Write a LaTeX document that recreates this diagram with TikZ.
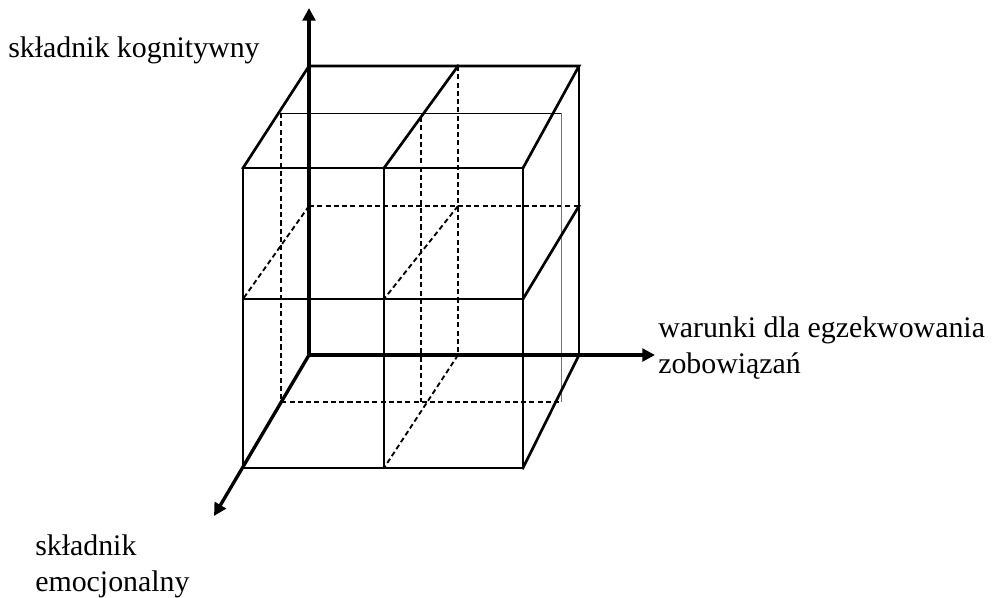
\documentclass[tikz,border=0pt]{standalone}
\usepackage{fontspec}
\setmainfont{Liberation Serif}
\usetikzlibrary{arrows.meta}
\begin{document}
\begin{tikzpicture}[x=0.75pt,y=-0.75pt,
  edge/.style={line width=2pt,line cap=rect},
  hid/.style={line width=1.4pt,dash pattern=on 3.8pt off 2.4pt},
  thinline/.style={line width=0.7pt},
  axis/.style={line width=2.5pt,-{Triangle[length=9.5pt,width=9.5pt]}},
  lbl/.style={anchor=base west,inner sep=0pt,font=\fontsize{22.4}{27}\selectfont}]
\useasboundingbox (0,0) rectangle (993,597);
% front face
\coordinate (F00) at (243,468); \coordinate (F10) at (384,468); \coordinate (F20) at (523,468);
\coordinate (F01) at (243,299); \coordinate (F11) at (384,299); \coordinate (F21) at (523,299);
\coordinate (F02) at (243,168); \coordinate (F12) at (384,168); \coordinate (F22) at (523,168);
% back face
\coordinate (B00) at (309,355); \coordinate (B10) at (458,355); \coordinate (B20) at (579,355);
\coordinate (B01) at (309,206); \coordinate (B11) at (458,206); \coordinate (B21) at (579,206);
\coordinate (B02) at (309,66);  \coordinate (B12) at (458,66);  \coordinate (B22) at (579,66);
% middle depth
\coordinate (M02) at (280,113); \coordinate (M22) at (561,113);
\coordinate (M00) at (281,402); \coordinate (M20) at (561,402);
\coordinate (M12) at (421,117); \coordinate (M10) at (421,402);
\coordinate (ML) at (281,113);
% axis ends
\coordinate (Ytip) at (309,8);
\coordinate (Xtip) at (655,355);
\coordinate (Ztip) at (214,516);
% hidden lines
\draw[hid] (B12) -- (B10);
\draw[hid] (B01) -- (B21);
\draw[hid] (B01) -- (F01);
\draw[hid] (B11) -- (F11);
\draw[hid] (B10) -- (F10);
\draw[hid] (ML) -- (M00) -- (M20);
\draw[hid] (M12) -- (M10);
\draw[thinline] (M02) -- (M22);
\draw[thinline,black!55] (M22) -- (M20);
% axes
\draw[axis] (B00) -- (Ytip);
\draw[axis] (B00) -- (Xtip);
\draw[axis] (B00) -- (Ztip);
% visible edges
\draw[edge] (F00) -- (F20) -- (F22) -- (F02) -- cycle;
\draw[edge] (F10) -- (F12);
\draw[edge] (F01) -- (F21);
\draw[edge] (F02) -- (B02) -- (B22) -- (F22);
\draw[edge] (F12) -- (B12);
\draw[edge] (B22) -- (B20);
\draw[edge] (F21) -- (B21);
\draw[edge] (F20) -- (B20);
% labels
\node[lbl] (ly) at (8,57) {składnik kognitywny};
\node[lbl] (lx1) at (658,337) {warunki dla egzekwowania};
\node[lbl] (lx2) at (658,373) {zobowiązań};
\node[lbl] (lz1) at (35,555) {składnik};
\node[lbl] (lz2) at (35,591) {emocjonalny};
\end{tikzpicture}
\end{document}
